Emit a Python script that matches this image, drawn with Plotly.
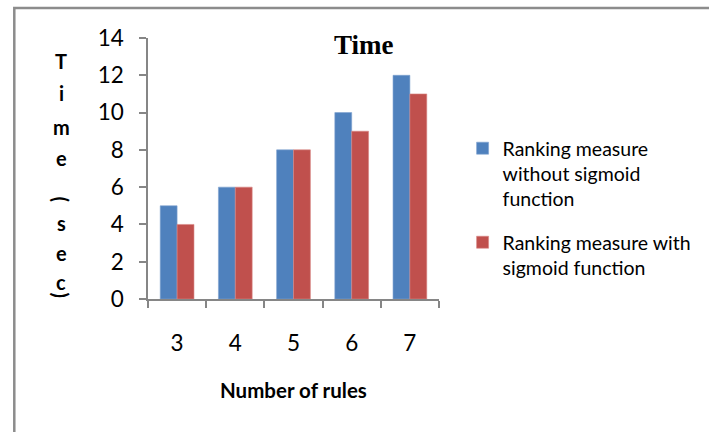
import plotly.graph_objects as go

# Data
rules = ["3", "4", "5", "6", "7"]
without_sigmoid = [5, 6, 8, 10, 12]
with_sigmoid = [4, 6, 8, 9, 11]
series_names = [
    "Ranking measure<br>without sigmoid<br>function",
    "Ranking measure with<br>sigmoid function",
]
y_title_chars = ["T", "i", "m", "e", "(", "s", "e", "c", ")"]

W, H = 709, 432
L, R, T, B = 148, 444, 38, 299  # plot area in pixels


def px(x):
    return (x - L) / (R - L)


def py(y):
    return (B - y) / (B - T)


fig = go.Figure()
fig.add_trace(go.Bar(x=rules, y=without_sigmoid, name=series_names[0], legendgroup="a",
                     marker=dict(color="#4F81BD", line=dict(color="#7FA3D0", width=0.6))))
fig.add_trace(go.Bar(x=rules, y=with_sigmoid, name=series_names[1], legendgroup="b",
                     marker=dict(color="#C0504D", line=dict(color="#D98684", width=0.6))))

axis_col = "#868686"
fig.update_layout(
    width=W, height=H,
    margin=dict(l=L, r=W - R, t=T, b=H - B),
    paper_bgcolor="white", plot_bgcolor="white",
    barmode="group", bargap=0.42, bargroupgap=0,
    font=dict(family="Lato, Carlito, sans-serif", color="black"),
    showlegend=True,
    legend=dict(x=px(468), y=py(129), xanchor="left", yanchor="top",
                font=dict(size=19.5, family="Lato, sans-serif"),
                tracegroupgap=15, itemwidth=30, valign="top",
                bgcolor="rgba(0,0,0,0)"),
    xaxis=dict(showline=True, linecolor=axis_col, linewidth=1.5,
               ticks="outside", ticklen=7, tickcolor=axis_col, tickwidth=1.5,
               tickson="boundaries", showgrid=False,
               tickfont=dict(size=22.5), ticklabelstandoff=23),
    yaxis=dict(range=[0, 14], dtick=2, showline=True, linecolor=axis_col,
               linewidth=1.5, ticks="outside", ticklen=7, tickcolor=axis_col,
               tickwidth=1.5, showgrid=False, zeroline=False,
               tickfont=dict(size=22.5), ticklabelstandoff=11),
)

# Outer frame (left and top edges visible)
fig.add_shape(type="rect", xref="paper", yref="paper",
              x0=px(12), x1=px(760), y0=py(8), y1=py(470),
              line=dict(color="#8C8C8C", width=2.5), fillcolor="rgba(0,0,0,0)", layer="below")

# Chart title
fig.add_annotation(text="<b>Time</b>", xref="paper", yref="paper",
                   x=px(368), y=py(45), xanchor="center", yanchor="middle",
                   showarrow=False,
                   font=dict(family="Liberation Serif, Times New Roman, serif", size=27))

# X axis title
fig.add_annotation(text="<b>Number of rules</b>", xref="paper", yref="paper",
                   x=px(296), y=py(390), xanchor="center", yanchor="middle",
                   showarrow=False, font=dict(size=20.5))

# Stacked vertical Y axis title
char_y = [61, 93, 127, 158, 200, 223, 253, 282, 296]
for ch, yy in zip(y_title_chars, char_y):
    paren = ch in "()"
    fig.add_annotation(text=f"<b>{ch}</b>", xref="paper", yref="paper",
                       x=px(60), y=py(yy), xanchor="center", yanchor="middle",
                       showarrow=False, textangle=90 if paren else 0,
                       font=dict(size=20))

fig.write_html("out.html")
